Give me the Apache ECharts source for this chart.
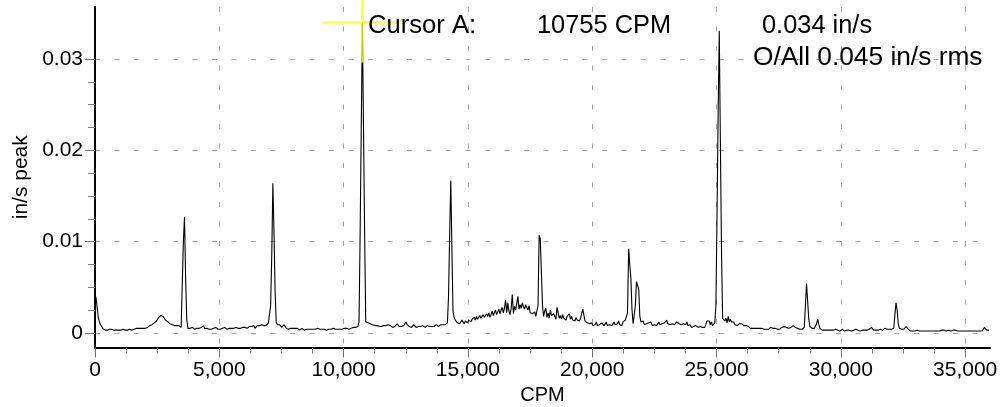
<!DOCTYPE html>
<html>
<head>
<meta charset="utf-8">
<title>Velocity spectrum</title>
<script src="https://cdn.jsdelivr.net/npm/echarts@6/dist/echarts.min.js"></script>
<style>
  html, body { margin: 0; padding: 0; background: #fff; }
  #chart { width: 1001px; height: 407px; }
</style>
</head>
<body>
<div id="chart"></div>
<script>
// Spectral line spacing of the analyzer (800 lines over 36,000 CPM)
const lineSpacingCPM = 45;

// Velocity amplitude per spectral line, in/s peak (line 0 = 0 CPM)
const amplitude = [
  0.0042, 0.0038, 0.0027, 0.0016, 0.0012, 0.0009, 0.0007, 0.0005, 0.0004, 0.0003, 0.0004, 0.0003, 0.0003, 0.0004, 0.0003, 0.0004, 0.0004, 0.0003, 0.0004, 0.0003,
  0.0004, 0.0003, 0.0004, 0.0003, 0.0003, 0.0004, 0.0005, 0.0003, 0.0004, 0.0003, 0.0003, 0.0004, 0.0004, 0.0003, 0.0004, 0.0004, 0.0005, 0.0005, 0.0005, 0.0005,
  0.0005, 0.0005, 0.0005, 0.0005, 0.0005, 0.0005, 0.0005, 0.0006, 0.0007, 0.0008, 0.0008, 0.0009, 0.0010, 0.0011, 0.0012, 0.0013, 0.0015, 0.0017, 0.0019, 0.0019,
  0.0018, 0.0018, 0.0017, 0.0014, 0.0013, 0.0012, 0.0011, 0.0010, 0.0010, 0.0009, 0.0010, 0.0008, 0.0009, 0.0008, 0.0007, 0.0008, 0.0006, 0.0006, 0.0008, 0.0100,
  0.0127, 0.0060, 0.0015, 0.0005, 0.0006, 0.0005, 0.0004, 0.0006, 0.0005, 0.0004, 0.0006, 0.0005, 0.0007, 0.0005, 0.0004, 0.0006, 0.0005, 0.0008, 0.0005, 0.0005,
  0.0005, 0.0006, 0.0004, 0.0005, 0.0004, 0.0004, 0.0005, 0.0004, 0.0006, 0.0005, 0.0004, 0.0005, 0.0004, 0.0005, 0.0005, 0.0004, 0.0006, 0.0005, 0.0004, 0.0005,
  0.0005, 0.0006, 0.0005, 0.0007, 0.0005, 0.0005, 0.0006, 0.0004, 0.0005, 0.0006, 0.0005, 0.0007, 0.0006, 0.0005, 0.0006, 0.0008, 0.0005, 0.0006, 0.0007, 0.0006,
  0.0007, 0.0006, 0.0008, 0.0005, 0.0007, 0.0008, 0.0006, 0.0008, 0.0007, 0.0009, 0.0007, 0.0008, 0.0009, 0.0008, 0.0010, 0.0011, 0.0011, 0.0030, 0.0085, 0.0164,
  0.0110, 0.0045, 0.0012, 0.0009, 0.0008, 0.0009, 0.0007, 0.0006, 0.0008, 0.0009, 0.0007, 0.0005, 0.0005, 0.0004, 0.0005, 0.0005, 0.0004, 0.0005, 0.0004, 0.0005,
  0.0004, 0.0005, 0.0004, 0.0003, 0.0004, 0.0005, 0.0004, 0.0003, 0.0004, 0.0004, 0.0005, 0.0004, 0.0003, 0.0004, 0.0006, 0.0004, 0.0003, 0.0004, 0.0004, 0.0005,
  0.0006, 0.0004, 0.0003, 0.0004, 0.0003, 0.0004, 0.0004, 0.0003, 0.0005, 0.0004, 0.0003, 0.0004, 0.0004, 0.0005, 0.0004, 0.0004, 0.0005, 0.0004, 0.0005, 0.0004,
  0.0005, 0.0004, 0.0005, 0.0005, 0.0004, 0.0005, 0.0005, 0.0004, 0.0006, 0.0005, 0.0005, 0.0006, 0.0005, 0.0006, 0.0006, 0.0007, 0.0012, 0.0110, 0.0225, 0.0340,
  0.0225, 0.0110, 0.0012, 0.0010, 0.0011, 0.0009, 0.0010, 0.0008, 0.0009, 0.0008, 0.0008, 0.0007, 0.0008, 0.0009, 0.0007, 0.0008, 0.0007, 0.0007, 0.0008, 0.0007,
  0.0008, 0.0007, 0.0009, 0.0007, 0.0008, 0.0007, 0.0006, 0.0008, 0.0007, 0.0009, 0.0010, 0.0008, 0.0007, 0.0008, 0.0007, 0.0006, 0.0008, 0.0010, 0.0012, 0.0009,
  0.0008, 0.0007, 0.0008, 0.0006, 0.0007, 0.0009, 0.0007, 0.0006, 0.0008, 0.0007, 0.0009, 0.0007, 0.0006, 0.0008, 0.0007, 0.0006, 0.0007, 0.0008, 0.0006, 0.0007,
  0.0006, 0.0007, 0.0008, 0.0007, 0.0008, 0.0009, 0.0008, 0.0007, 0.0008, 0.0009, 0.0008, 0.0009, 0.0010, 0.0009, 0.0010, 0.0011, 0.0040, 0.0107, 0.0167, 0.0095,
  0.0024, 0.0017, 0.0014, 0.0012, 0.0011, 0.0013, 0.0010, 0.0011, 0.0014, 0.0012, 0.0010, 0.0013, 0.0015, 0.0011, 0.0014, 0.0016, 0.0012, 0.0015, 0.0013, 0.0017,
  0.0014, 0.0018, 0.0015, 0.0013, 0.0019, 0.0016, 0.0014, 0.0020, 0.0017, 0.0015, 0.0021, 0.0018, 0.0022, 0.0017, 0.0020, 0.0024, 0.0019, 0.0022, 0.0025, 0.0020,
  0.0023, 0.0026, 0.0021, 0.0025, 0.0028, 0.0022, 0.0027, 0.0036, 0.0022, 0.0033, 0.0024, 0.0020, 0.0027, 0.0042, 0.0021, 0.0029, 0.0025, 0.0023, 0.0040, 0.0026,
  0.0031, 0.0027, 0.0033, 0.0029, 0.0026, 0.0031, 0.0028, 0.0025, 0.0030, 0.0022, 0.0024, 0.0021, 0.0019, 0.0023, 0.0018, 0.0020, 0.0030, 0.0107, 0.0103, 0.0104,
  0.0030, 0.0018, 0.0024, 0.0027, 0.0017, 0.0022, 0.0016, 0.0025, 0.0019, 0.0017, 0.0021, 0.0018, 0.0015, 0.0028, 0.0027, 0.0016, 0.0019, 0.0015, 0.0020, 0.0016,
  0.0017, 0.0014, 0.0018, 0.0016, 0.0021, 0.0015, 0.0018, 0.0014, 0.0016, 0.0013, 0.0017, 0.0014, 0.0015, 0.0013, 0.0016, 0.0014, 0.0026, 0.0026, 0.0013, 0.0012,
  0.0011, 0.0013, 0.0010, 0.0009, 0.0011, 0.0008, 0.0010, 0.0009, 0.0012, 0.0008, 0.0010, 0.0009, 0.0007, 0.0011, 0.0009, 0.0008, 0.0010, 0.0012, 0.0008, 0.0010,
  0.0009, 0.0011, 0.0008, 0.0010, 0.0012, 0.0009, 0.0008, 0.0010, 0.0013, 0.0009, 0.0011, 0.0008, 0.0012, 0.0012, 0.0014, 0.0016, 0.0022, 0.0092, 0.0075, 0.0060,
  0.0025, 0.0010, 0.0012, 0.0030, 0.0056, 0.0052, 0.0048, 0.0018, 0.0012, 0.0010, 0.0013, 0.0009, 0.0011, 0.0010, 0.0008, 0.0011, 0.0009, 0.0012, 0.0008, 0.0010,
  0.0009, 0.0011, 0.0008, 0.0010, 0.0012, 0.0009, 0.0008, 0.0010, 0.0009, 0.0011, 0.0012, 0.0014, 0.0010, 0.0008, 0.0009, 0.0007, 0.0010, 0.0008, 0.0009, 0.0011,
  0.0012, 0.0014, 0.0010, 0.0008, 0.0009, 0.0007, 0.0010, 0.0011, 0.0009, 0.0012, 0.0008, 0.0007, 0.0009, 0.0006, 0.0008, 0.0007, 0.0006, 0.0008, 0.0007, 0.0006,
  0.0006, 0.0007, 0.0005, 0.0006, 0.0007, 0.0006, 0.0009, 0.0013, 0.0011, 0.0013, 0.0009, 0.0012, 0.0008, 0.0010, 0.0011, 0.0030, 0.0130, 0.0240, 0.0331, 0.0210,
  0.0090, 0.0016, 0.0014, 0.0013, 0.0016, 0.0011, 0.0018, 0.0012, 0.0015, 0.0012, 0.0010, 0.0012, 0.0009, 0.0011, 0.0008, 0.0009, 0.0010, 0.0009, 0.0010, 0.0009,
  0.0008, 0.0007, 0.0008, 0.0006, 0.0007, 0.0006, 0.0005, 0.0006, 0.0005, 0.0006, 0.0005, 0.0004, 0.0005, 0.0006, 0.0005, 0.0004, 0.0005, 0.0006, 0.0004, 0.0005,
  0.0004, 0.0005, 0.0004, 0.0005, 0.0006, 0.0004, 0.0005, 0.0004, 0.0005, 0.0006, 0.0004, 0.0005, 0.0004, 0.0005, 0.0006, 0.0005, 0.0007, 0.0008, 0.0006, 0.0005,
  0.0005, 0.0004, 0.0006, 0.0005, 0.0008, 0.0009, 0.0006, 0.0008, 0.0005, 0.0006, 0.0004, 0.0005, 0.0004, 0.0005, 0.0006, 0.0030, 0.0054, 0.0035, 0.0015, 0.0007,
  0.0006, 0.0005, 0.0006, 0.0005, 0.0007, 0.0010, 0.0015, 0.0009, 0.0005, 0.0004, 0.0003, 0.0003, 0.0003, 0.0003, 0.0003, 0.0003, 0.0003, 0.0003, 0.0003, 0.0003,
  0.0003, 0.0003, 0.0004, 0.0003, 0.0003, 0.0003, 0.0002, 0.0003, 0.0004, 0.0003, 0.0002, 0.0003, 0.0003, 0.0004, 0.0003, 0.0003, 0.0002, 0.0003, 0.0003, 0.0003,
  0.0004, 0.0003, 0.0003, 0.0003, 0.0002, 0.0003, 0.0003, 0.0003, 0.0003, 0.0002, 0.0003, 0.0003, 0.0004, 0.0005, 0.0006, 0.0004, 0.0003, 0.0003, 0.0003, 0.0003,
  0.0003, 0.0003, 0.0004, 0.0003, 0.0003, 0.0004, 0.0005, 0.0006, 0.0004, 0.0003, 0.0004, 0.0003, 0.0004, 0.0003, 0.0005, 0.0020, 0.0033, 0.0025, 0.0010, 0.0005,
  0.0004, 0.0004, 0.0003, 0.0004, 0.0005, 0.0007, 0.0009, 0.0004, 0.0003, 0.0002, 0.0002, 0.0002, 0.0002, 0.0002, 0.0003, 0.0003, 0.0002, 0.0002, 0.0002, 0.0002,
  0.0002, 0.0002, 0.0002, 0.0002, 0.0002, 0.0002, 0.0002, 0.0002, 0.0002, 0.0002, 0.0002, 0.0002, 0.0002, 0.0002, 0.0002, 0.0002, 0.0002, 0.0003, 0.0004, 0.0003,
  0.0002, 0.0002, 0.0002, 0.0003, 0.0002, 0.0002, 0.0002, 0.0003, 0.0004, 0.0003, 0.0002, 0.0002, 0.0002, 0.0002, 0.0002, 0.0002, 0.0002, 0.0002, 0.0002, 0.0002,
  0.0002, 0.0002, 0.0002, 0.0002, 0.0002, 0.0002, 0.0002, 0.0002, 0.0002, 0.0002, 0.0002, 0.0002, 0.0002, 0.0002, 0.0003, 0.0006, 0.0005, 0.0003, 0.0003, 0.0003
];

// Cursor readout and overall level
const cursorA = [10755, 0.034];   // [CPM, in/s]
const overallRms = 0.045;         // in/s rms

// Axis ticks
const xMajorTicks = [0, 5000, 10000, 15000, 20000, 25000, 30000, 35000];
const yMajorTicks = [0, 0.01, 0.02, 0.03];
const minorSplits = 4;

function minorBetween(majors, splits) {
  const out = [];
  for (let i = 0; i < majors.length - 1; i++) {
    const step = (majors[i + 1] - majors[i]) / splits;
    for (let k = 1; k < splits; k++) out.push(+(majors[i] + k * step).toFixed(6));
  }
  return out;
}
const xMinorTicks = minorBetween(xMajorTicks, minorSplits);
const yMinorTicks = minorBetween(yMajorTicks, minorSplits);

const spectrum = amplitude.map((v, i) => [i * lineSpacingCPM, v]);

const FONT = '"Liberation Sans", Arial, Helvetica, sans-serif';
const X_MIN = 0, X_MAX = 36000;
const Y_MIN = -0.0016, Y_MAX = 0.0357;

const gridLine = { show: true, lineStyle: { color: '#a0a0a0', width: 1, type: [5, 14.5] } };

const chart = echarts.init(document.getElementById('chart'), null, { renderer: 'canvas' });
chart.setOption({
  animation: false,
  backgroundColor: '#ffffff',
  grid: { left: 95, right: 11, top: 7, bottom: 59.5, outerBoundsMode: 'none', containLabel: false },
  xAxis: [
    {
      type: 'value', min: X_MIN, max: X_MAX, position: 'bottom',
      name: 'CPM', nameLocation: 'middle', nameGap: 38,
      nameTextStyle: { color: '#000', fontFamily: FONT, fontSize: 20 },
      axisLine: { show: true, onZero: false, lineStyle: { color: '#000', width: 2 } },
      axisTick: { show: true, customValues: xMajorTicks, length: 10, lineStyle: { color: '#707070', width: 1 } },
      axisLabel: { show: true, customValues: xMajorTicks, margin: 12, color: '#000', fontFamily: FONT, fontSize: 21,
        formatter: v => Number(v).toLocaleString('en-US') },
      splitLine: gridLine,
      minorTick: { show: false }
    },
    {
      type: 'value', min: X_MIN, max: X_MAX, position: 'bottom',
      axisLine: { show: false, onZero: false },
      axisTick: { show: true, customValues: xMinorTicks, length: 6, lineStyle: { color: '#808080', width: 1 } },
      axisLabel: { show: false },
      splitLine: { show: false }
    }
  ],
  yAxis: [
    {
      type: 'value', min: Y_MIN, max: Y_MAX, position: 'left',
      name: 'in/s peak', nameLocation: 'middle', nameGap: 56,
      nameTextStyle: { color: '#000', fontFamily: FONT, fontSize: 21 },
      axisLine: { show: true, onZero: false, lineStyle: { color: '#000', width: 2 } },
      axisTick: { show: true, customValues: yMajorTicks, length: 10, lineStyle: { color: '#707070', width: 1 } },
      axisLabel: { show: true, customValues: yMajorTicks, margin: 12, color: '#000', fontFamily: FONT, fontSize: 21,
        formatter: v => String(+Number(v).toFixed(4)) },
      splitLine: gridLine,
      minorTick: { show: false }
    },
    {
      type: 'value', min: Y_MIN, max: Y_MAX, position: 'left',
      axisLine: { show: false, onZero: false },
      axisTick: { show: true, customValues: yMinorTicks, length: 7, lineStyle: { color: '#808080', width: 1 } },
      axisLabel: { show: false },
      splitLine: { show: false }
    }
  ],
  series: [
    {
      name: 'Spectrum', type: 'line', xAxisIndex: 0, yAxisIndex: 0,
      data: spectrum, showSymbol: false, symbol: 'none', smooth: false,
      lineStyle: { color: '#000', width: 1.1 }, silent: true, z: 3
    },
    {
      name: 'Cursor A', type: 'scatter', xAxisIndex: 0, yAxisIndex: 0,
      data: [cursorA], clip: false, silent: true, z: 5,
      symbol: 'path://M40,0L40,80M0,40L80,40', symbolSize: 80, symbolKeepAspect: true,
      itemStyle: { color: 'none', borderColor: '#ffff00', borderWidth: 2.5 }
    }
  ],
  graphic: [
    { type: 'text', x: 368, y: 26.3, z: 100, silent: true,
      style: { text: 'Cursor A:', font: '25.6px ' + FONT, fill: '#000', verticalAlign: 'middle' } },
    { type: 'text', x: 537, y: 26.3, z: 100, silent: true,
      style: { text: cursorA[0] + ' CPM', font: '25.4px ' + FONT, fill: '#000', verticalAlign: 'middle' } },
    { type: 'text', x: 762, y: 26.3, z: 100, silent: true,
      style: { text: cursorA[1] + ' in/s', font: '25.4px ' + FONT, fill: '#000', verticalAlign: 'middle' } },
    { type: 'text', x: 753, y: 58, z: 100, silent: true,
      style: { text: 'O/All ' + overallRms + ' in/s rms', font: '26.3px ' + FONT, fill: '#000', verticalAlign: 'middle' } }
  ]
});
</script>
</body>
</html>
